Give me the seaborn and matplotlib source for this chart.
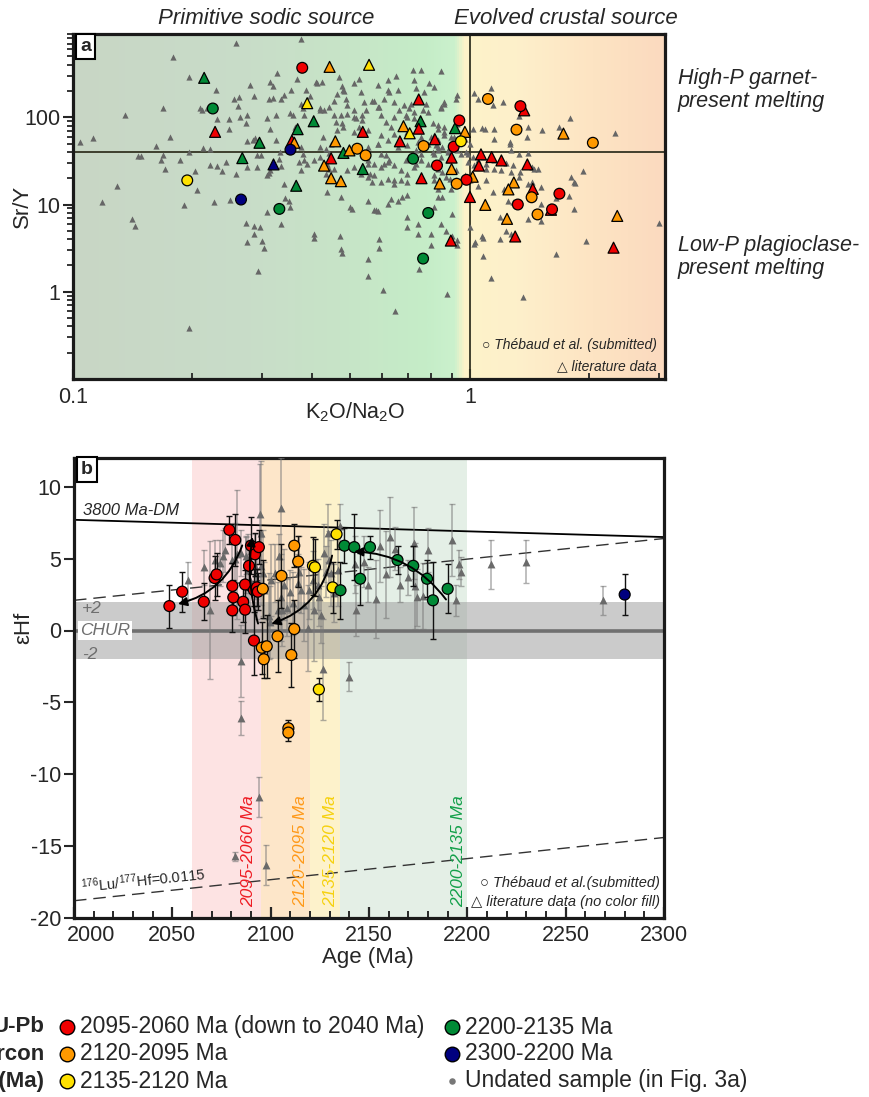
import numpy as np
import matplotlib
matplotlib.use("Agg")
import matplotlib.pyplot as plt
import seaborn as sns
import pandas as pd
from matplotlib.colors import LinearSegmentedColormap
from matplotlib.patches import FancyArrowPatch
from matplotlib.ticker import FixedLocator, LogLocator, NullFormatter, MultipleLocator

# ---------------- DATA ----------------
GROUPS = ["2095-2060 Ma", "2120-2095 Ma", "2135-2120 Ma", "2200-2135 Ma", "2300-2200 Ma"]
PALETTE = dict(zip(GROUPS, ["#f00000", "#ff9900", "#ffe100", "#008a36", "#00007f"]))
R, O, Y, G, N = GROUPS

# Panel a: literature data (grey triangles), K2O/Na2O and Sr/Y
lit_k = [0.104,0.112,0.135,0.118,0.129,0.141,0.143,0.146,0.148,0.162,0.169,0.176,0.179,0.167,0.169,0.171,0.186,0.19,0.196,0.196,0.196,0.203,0.205,0.212,0.209,0.211,0.218,0.222,0.221,0.231,0.237,0.226,0.229,0.231,0.243,0.247,0.247,0.248,0.254,0.26,0.262,0.258,0.257,0.264,0.274,0.273,0.275,0.274,0.272,0.286,0.279,0.285,0.284,0.287,0.291,0.29,0.298,0.299,0.292,0.308,0.311,0.313,0.308,0.313,0.324,0.324,0.327,0.314,0.319,0.311,0.319,0.335,0.341,0.33,0.333,0.335,0.34,0.343,0.35,0.352,0.359,0.363,0.355,0.366,0.375,0.375,0.379,0.382,0.36,0.375,0.379,0.371,0.381,0.386,0.395,0.405,0.409,0.412,0.425,0.419,0.429,0.42,0.427,0.433,0.441,0.446,0.433,0.441,0.455,0.437,0.455,0.459,0.462,0.472,0.477,0.468,0.477,0.481,0.486,0.491,0.471,0.472,0.477,0.505,0.51,0.526,0.531,0.51,0.526,0.536,0.541,0.548,0.552,0.56,0.565,0.552,0.552,0.574,0.579,0.59,0.59,0.605,0.648,0.585,0.596,0.607,0.613,0.625,0.574,0.59,0.607,0.625,0.644,0.585,0.62,0.651,0.644,0.67,0.694,0.632,0.676,0.696,0.696,0.738,0.745,0.689,0.71,0.731,0.731,0.752,0.689,0.703,0.724,0.76,0.774,0.782,0.805,0.72,0.731,0.767,0.79,0.797,0.821,0.805,0.829,0.845,0.813,0.829,0.813,0.797,
         0.845,1.025,1.13,1.045,1.14,1.21,1.33,1.4,1.39,1.26,1.26,1.09,1.15,1.15,1.016,1.07,1.52,1.68,1.79,2.32,1.27,1.33,1.4,1.08,1.1,1.15,1.23,1.28,1.1,1.15,1.2,1.43,1.45,1.48,1.27,1.34,1.33,1.4,1.1,1.045,1.14,1.22,1.43,1.51,1.25,1.28,1.51,1.65,1.78,1.83,1.93,1.8,1.83,1.84,1.4,1.51,1.19,1.23,1.07,1.08,1.03,1.19,1.27,1.08,1.13,1.36,1.65,1.96,3.0,0.875,0.93,0.9,0.87,0.9,0.85,0.83,0.895,0.81,0.87,0.89,0.92,0.97,1.0,0.83,0.85,0.88,0.91,0.95,0.98,1.016,1.045,0.99,1.025,0.83,0.86,0.895,0.97,1.0,0.83,0.86,0.93,0.86,0.92,0.93,0.845,0.83,0.85,0.92,
         0.42,0.441,0.455,0.463,0.48,0.491,0.51,0.515,0.536,0.568,0.585,0.596,0.613,0.632,0.644,0.663,0.682,0.696,0.724,0.71,0.552,0.574,0.596,0.62,0.644,0.67,0.696,0.724,0.752,0.782,0.813,0.845,0.878,0.491,0.51,0.531,0.552,0.574,0.596,0.62,0.644,0.405,0.42,0.437,0.389,0.375,0.552,0.585,0.62,0.657,0.696,0.738,0.782,0.83,0.878,0.93,0.987,0.48,0.51,0.552,0.596,0.644,0.696,0.752,0.813,0.86,0.91,0.62,0.657,0.724,0.752,0.813,0.86,0.353,0.335,0.308,0.296,0.285,0.275,0.302,0.405,0.472,0.5,0.552,0.585,0.62,0.657,0.696,0.738,0.797,0.845,0.93,1.0,1.025]
lit_sry = [52,58,105,10.6,16.4,6.9,5.6,35.6,35.6,46.8,129,59,493,32.7,36.6,25.7,32.7,10,286,0.38,40,24.1,14.5,44,129,120,129,42.9,28.6,27.5,24.1,10.6,204,95,31,95,74,11.3,161,134,171,715,22.5,101,105,85,54,26.9,6.1,5.6,233,174,55.5,58.4,36.6,26.9,37.3,3.8,1.74,21.5,22.8,25.0,99,74,105,54.4,323,255,227,160,166,161,182,33.5,40,27.5,17.3,12.0,10.9,112,105,77,208,272,781,141,129,105,57,45.6,38,30.3,32.7,208,177,4.15,255,250,255,129,122,45.6,59,43.6,38.9,49.9,22.5,25.7,25.7,13.8,105,88,71,105,85,286,227,200,162,137,4.4,3.1,2.8,8.8,244,272,195,101,77,105,150,120,29.3,22.5,18.1,2.4,1.5,8.6,8.7,4.0,3.2,1.05,0.6,50,38,29.3,36.6,32,155,131,164,195,150,233,204,296,18.9,18.9,18.1,11.6,12.2,12.7,5.5,4.6,1.8,32,35.1,41.8,29.3,38,105,126,97,120,143,115,85,347,214,195,244,59,48,40,81,131,21.5,12.2,9.3,3.4,
           338,190,214,160,137,150,103,77,59,52,49,74,74,57,74,75,71,77,99,66,41.8,37.6,38.9,35,29.3,32,30,28,25.7,25.7,24.6,27,25.7,25.7,23.5,23.5,20.6,17.3,18.9,16.5,13.8,15.1,18.1,15.9,11.1,10.6,10.2,12.0,12.4,8.9,24.1,20.6,18.1,17.6,6.85,6.4,7.2,5.0,4.3,4.1,3.7,4.0,4.6,2.6,1.45,0.87,2.7,3.85,6.1,0.94,3.4,4.4,5.0,7.8,12.2,15.1,15.1,18.9,20.6,19.7,18.9,21.5,18.9,41.8,45.6,40,43.6,38,40,35,32,30.6,28,54.4,62,59,57,50,74,77,83,150,164,179,126,25.7,23.5,24.6,
           120,131,155,187,204,110,120,97,92,155,131,105,88,77,101,120,137,101,115,143,32,29.3,27,30.6,28,24.6,22.5,27,32,29.3,38,35,32,24.6,27,22.5,20.6,21.5,18.1,19.7,17.3,32,35,29.3,29.3,24.6,45.6,50,54.4,45.6,47.8,52,50,45.6,41.8,41.8,38,77,68,71,62,65,68,59,62,68,59,266,204,266,347,223,143,9.3,6.0,8.2,5.5,4.6,3.7,3.2,4.6,12.2,9.3,11.1,8.5,10.2,11.1,7.2,6.0,4.6,6.0,3.9,5.5,3.5]

# Panel a: dated literature samples (coloured triangles)
litc_k = [0.214,0.295,0.267,0.365,0.404,0.368,0.48,0.537,0.751,0.917,
          0.228,0.356,0.447,0.537,0.743,0.743,0.666,0.816,0.899,0.755,1.0,0.895,1.066,1.134,1.2,1.053,1.395,1.44,1.30,2.3,1.37,1.6,
          0.361,0.443,0.458,0.497,0.429,0.447,0.473,0.68,0.971,0.899,0.839,1.016,1.29,1.25,1.093,1.24,1.72,2.35,
          0.389,0.557,0.705, 0.32]
litc_sry = [283,51,34,16.4,90,73,39,25.5,90,75,
            68,54,33.8,68,160,74,53,56,34.5,20,12.2,3.86,37.6,35,32,27.9,28.8,15.1,4.3,3.2,120,8.7,
            51,378,53,41.7,27.9,20,18.5,79,68,25.5,17.4,20.8,17.9,14.9,9.9,6.85,65,7.4,
            145,399,65.5, 28.8]
litc_grp = [G]*10 + [R]*22 + [O]*18 + [Y]*3 + [N]

# Panel a: Thebaud et al. samples (coloured circles)
thb_k = [0.378,0.94,0.91,0.826,0.98,1.34,1.68,1.32,1.61,
         0.52,0.546,0.764,0.926,1.11,1.31,2.04,1.43,1.48,
         0.194,0.949, 0.225,0.331,0.719,0.785,0.762, 0.265,0.353]
thb_sry = [369,92,46,28,19.2,134,13.3,10,8.8,
           43.6,36.6,46.8,17.3,162,72,51,12.1,7.7,
           18.9,53, 126,8.9,33.5,8.0,2.4, 11.4,42.5]
thb_grp = [R]*9 + [O]*9 + [Y]*2 + [G]*5 + [N]*2

# Panel b: Thebaud et al. zircon Hf (age, eHf, 2s)
hf_age = [2048.5,2055,2066,2071.5,2072.5,2079,2082,2080.5,2081,2080.5,2086,2087,2087,2089,2090,2092,2094,2091.5,2093,2093.5,2091.5,
          2096,2095.5,2098,2096.5,2103.5,2105.5,2110.5,2112,2112,2114,2109,2109,
          2121.5,2122.5,2131.5,2133.5,2124.5,
          2135.5,2137.5,2142.5,2145.5,2150.5,2164.5,2172.5,2179.5,2182.5,2190,
          2280]
hf_eps = [1.7,2.7,2.0,3.65,3.9,7.0,6.3,3.1,2.3,1.4,2.0,3.2,1.45,4.5,5.9,5.3,5.8,2.8,3.0,2.7,-0.7,
          2.9,-1.2,-1.1,-2.0,-0.4,3.8,-1.7,0.1,5.9,4.8,-6.8,-7.1,
          4.5,4.4,3.0,6.7,-4.1,
          2.8,5.9,5.8,3.6,5.8,4.9,4.5,3.6,2.1,2.9,
          2.5]
hf_err = [1.5,1.4,1.3,1.5,1.5,1.0,1.8,1.6,1.2,1.5,1.4,1.0,1.6,1.7,2.0,1.5,1.2,1.5,1.3,1.3,2.4,
          2.0,1.8,2.2,1.3,2.5,2.2,2.2,2.0,1.5,1.8,0.6,0.6,
          2.0,2.0,1.8,1.0,0.8,
          2.0,1.2,2.3,1.8,0.8,1.0,1.4,1.3,2.7,1.7,
          1.4]
hf_grp = [R]*21 + [O]*12 + [Y]*5 + [G]*10 + [N]

# Panel b: literature zircon Hf (grey triangles)
lhf_age = [2058,2066,2069,2071.5,2074,2076,2077,2080.5,2082,2083,2085,2087.5,2087.5,2088.5,2089.5,2092,2092.5,2093,2094.5,2095,2095,2096,2096.5,2099,2099.5,2100,2102,2104,
           2103.5,2105,2105,2106,2107,2108.5,2110,2111.5,2114,2114.5,2115.5,2117,2119,2119.5,2121.5,2122,2124,2124.5,2125.5,2126.5,2127,2128,2129,2129.5,2130.5,2132,2134,2135,
           2140,2143,2143.5,2147.5,2149.5,2153.5,2155.5,2158.5,2160.5,2163,2166,2170,2173,2173.5,2174.5,2177.5,2180,2192,2194,2196,2197,2212,2230,2269,
           2085,2085,2082,2094,2097.5]
lhf_eps = [3.5,4.4,1.4,4.9,4.7,5.2,5.6,4.9,5.0,5.3,5.4,4.6,5.2,4.2,3.5,4.5,4.0,3.3,8.1,6.8,4.5,4.0,2.8,1.0,0.6,3.5,4.0,5.2,
           1.4,2.3,8.5,1.4,3.2,1.6,2.7,1.9,3.3,4.1,2.8,1.8,0.2,2.8,3.5,1.4,3.2,2.3,1.1,-2.7,5.4,4.1,6.8,4.9,4.0,2.6,4.2,7.3,
           -3.2,4.6,1.4,4.8,3.2,2.2,5.9,3.9,6.5,5.7,3.2,3.7,6.1,3.1,2.3,2.4,5.6,6.3,2.1,4.6,4.1,4.6,4.8,2.1,
           -6.1,-2.1,-15.7,-11.6,-16.3]
lhf_err = [1.3,1.2,4.8,1.4,1.6,1.8,1.5,2.2,2.5,4.5,1.6,2.0,1.3,2.5,1.8,2.2,1.8,2.5,3.5,5.0,2.0,3.0,2.0,3.0,2.5,2.5,2.0,1.5,
           2.0,3.0,3.5,2.5,2.5,2.0,1.5,2.2,2.0,2.5,1.6,2.5,3.0,2.0,2.0,3.5,1.8,2.0,2.0,3.5,2.0,1.8,2.0,2.0,2.3,2.0,2.5,1.5,
           1.0,2.0,1.8,1.8,1.2,2.7,2.5,3.0,2.8,1.5,1.2,1.2,2.5,3.0,2.0,2.3,1.5,2.5,1.1,1.0,1.0,1.7,1.5,1.0,
           1.2,2.5,0.3,1.4,1.4]

# Reference evolution lines (age, eHf)
dm_age, dm_eps = [2000, 2300], [7.7, 6.5]
crust_age, crust_eps = [2000, 2300], [2.1, 6.4]
luhf_age, luhf_eps = [2000, 2300], [-18.8, -14.4]

# Age bands (Ma)
band_lo = [2060, 2095, 2120, 2135]
band_hi = [2095, 2120, 2135, 2200]
band_lab = ["2095-2060 Ma", "2120-2095 Ma", "2135-2120 Ma", "2200-2135 Ma"]
age_ticks = [2000, 2050, 2100, 2150, 2200, 2250, 2300]

# ---------------- STYLE ----------------
sns.set_style("ticks")
plt.rcParams['font.family'] = ['Liberation Sans', 'DejaVu Sans']
plt.rcParams['mathtext.fontset'] = 'custom'
plt.rcParams['mathtext.rm'] = 'Liberation Sans'
plt.rcParams['mathtext.it'] = 'Liberation Sans:italic'
plt.rcParams['axes.unicode_minus'] = False
NARROW = ['Liberation Sans Narrow', 'Liberation Sans', 'DejaVu Sans']

W, H = 869, 1097
fig = plt.figure(figsize=(W/100, H/100), dpi=100)

def fx(px): return px / W
def fy(py): return 1 - py / H

# ================= Panel a =================
ax1 = fig.add_axes([fx(73), fy(379), fx(665) - fx(73), fy(34) - fy(379)])
ax1.set_xscale('log'); ax1.set_yscale('log')
ax1.set_xlim(0.1, 3.1); ax1.set_ylim(0.1, 900)

cmap = LinearSegmentedColormap.from_list("bg", [
    (0.00, '#c8d6c5'), (0.30, '#c9ddc9'), (0.45, '#c7e4c7'), (0.60, '#c5edc8'),
    (0.645, '#cbf1cd'), (0.662, '#fdf3c9'), (0.75, '#fef0cb'), (0.88, '#fde4c3'), (1.00, '#fbdabf')])
ax1.imshow(np.linspace(0, 1, 600)[None, :], extent=[0, 1, 0, 1], transform=ax1.transAxes,
           aspect='auto', cmap=cmap, zorder=0)

ax1.axhline(40, color='#333322', lw=1.3, zorder=1)
ax1.axvline(1, color='#333322', lw=1.3, zorder=1)

sns.scatterplot(x=lit_k, y=lit_sry, marker='^', color='#666666', s=20, linewidth=0, ax=ax1, zorder=2)
dfc = pd.DataFrame(dict(k=litc_k, s=litc_sry, g=litc_grp))
sns.scatterplot(data=dfc, x='k', y='s', hue='g', palette=PALETTE, marker='^', s=62,
                edgecolor='black', linewidth=0.9, legend=False, ax=ax1, zorder=3)
dft = pd.DataFrame(dict(k=thb_k, s=thb_sry, g=thb_grp))
sns.scatterplot(data=dft, x='k', y='s', hue='g', palette=PALETTE, marker='o', s=60,
                edgecolor='black', linewidth=0.9, legend=False, ax=ax1, zorder=4)
ax1.set_xlim(0.1, 3.1); ax1.set_ylim(0.1, 900)

ax1.xaxis.set_major_locator(FixedLocator([0.1, 1]))
ax1.set_xticklabels(['0.1', '1'])
ax1.xaxis.set_minor_locator(LogLocator(subs=np.arange(2, 10)))
ax1.xaxis.set_minor_formatter(NullFormatter())
ax1.yaxis.set_major_locator(FixedLocator([1, 10, 100]))
ax1.set_yticklabels(['1', '10', '100'])
ax1.yaxis.set_minor_locator(LogLocator(subs=np.arange(2, 10)))
ax1.yaxis.set_minor_formatter(NullFormatter())
ax1.tick_params(axis='x', which='major', direction='in', length=7, width=1.5, labelsize=15.5, pad=6)
ax1.tick_params(axis='x', which='minor', direction='in', length=4, width=1.3)
ax1.tick_params(axis='y', which='major', direction='out', length=7, width=1.5, labelsize=15.5, pad=2)
ax1.tick_params(axis='y', which='minor', direction='out', length=4, width=1.3)
ax1.set_xlabel('K$_2$O/Na$_2$O', fontsize=15.5)
ax1.xaxis.set_label_coords((355 - 73) / 592, -(412 - 379) / 345)
ax1.set_ylabel('Sr/Y', fontsize=16)
ax1.yaxis.set_label_coords(-(73 - 22) / 592, 0.5)
ax1.xaxis.label.set_va('center'); ax1.yaxis.label.set_va('center')
for sp in ax1.spines.values():
    sp.set_linewidth(2.3); sp.set_color('#1a1a1a')
ax1.text(0.012, 0.988, 'a', transform=ax1.transAxes, ha='left', va='top', fontsize=14, fontweight='bold',
         bbox=dict(boxstyle='square,pad=0.2', fc='white', ec='black', lw=1.5), zorder=6)

fig.text(fx(266), fy(18), 'Primitive sodic source', ha='center', va='center', style='italic', fontsize=16)
fig.text(fx(566), fy(18), 'Evolved crustal source', ha='center', va='center', style='italic', fontsize=16)
fig.text(fx(678), fy(90), 'High-P garnet-\npresent melting', ha='left', va='center', style='italic',
         fontsize=15.5, linespacing=1.15)
fig.text(fx(678), fy(257), 'Low-P plagioclase-\npresent melting', ha='left', va='center', style='italic',
         fontsize=15.5, linespacing=1.15)
fig.text(fx(657), fy(345), '\u25cb Th\u00e9baud et al. (submitted)', ha='right', va='center', style='italic',
         fontsize=10, family=NARROW)
fig.text(fx(657), fy(366), '\u25b3 literature data', ha='right', va='center', style='italic',
         fontsize=10, family=NARROW)

# ================= Panel b =================
ax2 = fig.add_axes([fx(74), fy(918), fx(664) - fx(74), fy(458) - fy(918)])
ax2.set_xlim(2000, 2300); ax2.set_ylim(-20, 12)
band_fill = ['#fde3e3', '#fde6c9', '#fdf2cb', '#e4efe6']
band_txt = ['#ee1c24', '#ff9a1a', '#f6d10f', '#13a04a']
for lo, hi, c in zip(band_lo, band_hi, band_fill):
    ax2.axvspan(lo, hi, color=c, lw=0, zorder=0)
ax2.axhspan(-2, 2, color='#999999', alpha=0.5, lw=0, zorder=1)
ax2.axhline(0, color='#707070', lw=2.6, zorder=1.5)
ax2.plot(dm_age, dm_eps, color='black', lw=1.3, zorder=2)
ax2.plot(crust_age, crust_eps, color='#333333', lw=1.0, dashes=(9, 5), zorder=2)
ax2.plot(luhf_age, luhf_eps, color='#333333', lw=1.0, dashes=(9, 5), zorder=2)

ax2.errorbar(lhf_age, lhf_eps, yerr=lhf_err, fmt='none', ecolor='#777777', alpha=0.6,
             elinewidth=1.1, capsize=2.2, capthick=1.0, zorder=3)
sns.scatterplot(x=lhf_age, y=lhf_eps, marker='^', color='#6a6a6a', s=32, linewidth=0, ax=ax2, zorder=3.5)
ax2.errorbar(hf_age, hf_eps, yerr=hf_err, fmt='none', ecolor='#111111', elinewidth=1.0,
             capsize=2.2, capthick=1.0, zorder=4)
dfh = pd.DataFrame(dict(a=hf_age, e=hf_eps, g=hf_grp))
sns.scatterplot(data=dfh, x='a', y='e', hue='g', palette=PALETTE, marker='o', s=62,
                edgecolor='black', linewidth=0.9, legend=False, ax=ax2, zorder=5)
ax2.set_xlim(2000, 2300); ax2.set_ylim(-20, 12)

arrows = [((2086, 6.1), (2051.5, 1.8), -0.28), ((2094, 0.3), (2091, 6.7), -0.12),
          ((2131.5, 5.4), (2099, 0.4), -0.3), ((2190, 2.0), (2141, 5.5), 0.25)]
for a, b, r in arrows:
    ax2.add_patch(FancyArrowPatch(a, b, connectionstyle=f'arc3,rad={r}', arrowstyle='-|>',
                                  mutation_scale=13, lw=1.4, color='black', zorder=7))

for lo, hi, lab, c, xm in zip(band_lo, band_hi, band_lab, band_txt, [2088.8, 2115.3, 2130.6, 2195.4]):
    ax2.text(xm, -19.25, lab, rotation=90, ha='center', va='bottom', color=c, style='italic',
             fontsize=12.5, zorder=6)

ax2.text(2004.5, 8.35, '3800 Ma-DM', style='italic', fontsize=12, ha='left', va='center', zorder=6)
ax2.text(2004, 1.5, '+2', style='italic', fontsize=12.5, color='#6e6e6e', ha='left', va='center', zorder=6)
ax2.text(2003, 0, 'CHUR', style='italic', fontsize=12.5, color='#6e6e6e', ha='left', va='center', zorder=6,
         bbox=dict(boxstyle='square,pad=0.1', fc='white', ec='none'))
ax2.text(2004, -1.65, '-2', style='italic', fontsize=12.5, color='#6e6e6e', ha='left', va='center', zorder=6)
ax2.text(2004, -18.45, '$^{176}$Lu/$^{177}$Hf=0.0115', fontsize=10.5, rotation=6, rotation_mode='anchor',
         ha='left', va='bottom', zorder=6)
fig.text(fx(660), fy(883), '\u25cb Th\u00e9baud et al.(submitted)', ha='right', va='center', style='italic',
         fontsize=10.5, family=NARROW)
fig.text(fx(660), fy(902), '\u25b3 literature data (no color fill)', ha='right', va='center', style='italic',
         fontsize=10.5, family=NARROW)

ax2.xaxis.set_major_locator(FixedLocator(age_ticks))
ax2.set_xticklabels([''] + [str(t) for t in age_ticks[1:]])
ax2.text(age_ticks[0] - 3.5, -0.016, str(age_ticks[0]), transform=ax2.get_xaxis_transform(),
         ha='left', va='top', fontsize=15.5)
ax2.xaxis.set_minor_locator(MultipleLocator(10))
ax2.yaxis.set_major_locator(FixedLocator([-20, -15, -10, -5, 0, 5, 10]))
ax2.tick_params(axis='x', which='major', direction='in', length=8, width=1.6, labelsize=15.5, pad=5)
ax2.tick_params(axis='x', which='minor', direction='in', length=5, width=1.4)
ax2.tick_params(axis='y', which='major', direction='out', length=7, width=1.5, labelsize=15.5, pad=2)
ax2.set_xlabel('Age (Ma)', fontsize=16)
ax2.xaxis.set_label_coords((368 - 74) / 590, -(957 - 918) / 460)
ax2.set_ylabel('\u03b5Hf', fontsize=16)
ax2.yaxis.set_label_coords(-(74 - 24) / 590, (918 - 628) / 460)
ax2.xaxis.label.set_va('center'); ax2.yaxis.label.set_va('center')
for sp in ax2.spines.values():
    sp.set_linewidth(2.3); sp.set_color('#1a1a1a')
ax2.text(0.012, 0.993, 'b', transform=ax2.transAxes, ha='left', va='top', fontsize=14, fontweight='bold',
         bbox=dict(boxstyle='square,pad=0.2', fc='white', ec='black', lw=1.5), zorder=8)

# ================= Legend =================
ax3 = fig.add_axes([0, 0, 1, 1], facecolor='none')
ax3.set_xlim(0, W); ax3.set_ylim(H, 0); ax3.axis('off')
fig.text(fx(44), fy(1027), 'U-Pb', ha='right', va='center', fontweight='bold', fontsize=16, family=NARROW)
fig.text(fx(44), fy(1054), 'zircon', ha='right', va='center', fontweight='bold', fontsize=16, family=NARROW)
fig.text(fx(44), fy(1081), 'age (Ma)', ha='right', va='center', fontweight='bold', fontsize=16, family=NARROW)
leg_items = [(67, 1027, R, "2095-2060 Ma (down to 2040 Ma)"), (67, 1054, O, "2120-2095 Ma"),
             (67, 1081, Y, "2135-2120 Ma"), (452, 1027, G, "2200-2135 Ma"), (452, 1054, N, "2300-2200 Ma")]
for x, y, g, lab in leg_items:
    ax3.scatter([x], [y], s=110, color=PALETTE[g], edgecolor='black', linewidth=1.0)
    ax3.text(x + 13, y, lab, ha='left', va='center', fontsize=16.5, family=NARROW)
ax3.scatter([452], [1081], s=22, color='#777777', linewidth=0)
ax3.text(465, 1081, 'Undated sample (in Fig. 3a)', ha='left', va='center', fontsize=16.5, family=NARROW)

fig.savefig('out.png', dpi=100)
